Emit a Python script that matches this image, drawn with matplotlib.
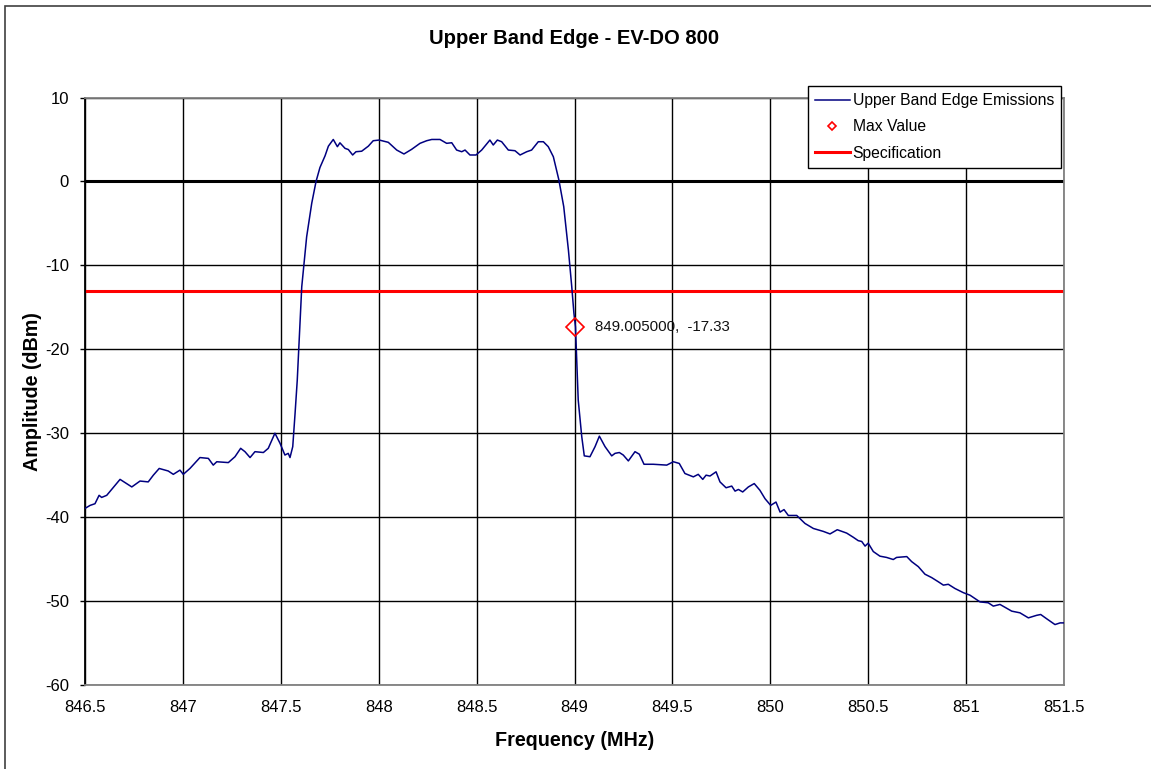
import matplotlib
matplotlib.use("Agg")
import matplotlib.pyplot as plt
from matplotlib.patches import Rectangle

plt.rcParams['font.family'] = ['Liberation Sans', 'DejaVu Sans']
plt.rcParams['axes.unicode_minus'] = False

# ---- data ----
freq_mhz = [
    846.500, 846.526, 846.551, 846.572, 846.585, 846.611, 846.679, 846.739, 846.781, 846.823,
    846.849, 846.879, 846.925, 846.951, 846.985, 847.002, 847.036, 847.087, 847.130, 847.155,
    847.173, 847.232, 847.266, 847.295, 847.317, 847.343, 847.368, 847.411, 847.436, 847.470,
    847.496, 847.521, 847.538, 847.547, 847.561, 847.573, 847.584, 847.607, 847.632, 847.658,
    847.680, 847.700, 847.726, 847.743, 847.768, 847.789, 847.802, 847.828, 847.845, 847.867,
    847.884, 847.913, 847.947, 847.972, 848.003, 848.049, 848.092, 848.129, 848.168, 848.211,
    848.245, 848.271, 848.313, 848.347, 848.373, 848.398, 848.424, 848.441, 848.466, 848.497,
    848.526, 848.568, 848.585, 848.606, 848.628, 848.662, 848.696, 848.722, 848.756, 848.781,
    848.815, 848.841, 848.866, 848.892, 848.920, 848.945, 848.969, 848.986, 848.997, 849.005,
    849.019, 849.037, 849.050, 849.079, 849.105, 849.127, 849.156, 849.190, 849.207, 849.229,
    849.249, 849.275, 849.309, 849.331, 849.355, 849.402, 849.471, 849.505, 849.535, 849.564,
    849.607, 849.632, 849.655, 849.672, 849.692, 849.723, 849.743, 849.774, 849.803, 849.820,
    849.837, 849.859, 849.888, 849.918, 849.947, 849.973, 850.002, 850.029, 850.050, 850.070,
    850.092, 850.135, 850.177, 850.220, 850.271, 850.305, 850.342, 850.390, 850.424, 850.449,
    850.467, 850.484, 850.500, 850.526, 850.560, 850.594, 850.628, 850.645, 850.697, 850.722,
    850.756, 850.790, 850.824, 850.858, 850.884, 850.909, 850.943, 850.986, 851.020, 851.071,
    851.113, 851.139, 851.173, 851.233, 851.275, 851.318, 851.360, 851.381, 851.411, 851.454,
    851.480, 851.500,
]
amplitude_dbm = [
    -38.96, -38.6, -38.4, -37.4, -37.65, -37.4, -35.5, -36.4, -35.7, -35.8,
    -35.0, -34.2, -34.5, -34.9, -34.4, -34.9, -34.2, -32.9, -33.0, -33.8,
    -33.4, -33.5, -32.8, -31.8, -32.2, -32.9, -32.2, -32.3, -31.8, -30.0,
    -31.2, -32.6, -32.4, -32.9, -31.6, -27.6, -23.7, -12.55, -6.6, -2.6,
    0.0, 1.66, 3.05, 4.2, 5.0, 4.14, 4.6, 3.94, 3.8, 3.15,
    3.54, 3.6, 4.2, 4.85, 4.93, 4.66, 3.74, 3.27, 3.82, 4.54,
    4.85, 5.0, 5.0, 4.54, 4.61, 3.74, 3.54, 3.74, 3.15, 3.15,
    3.74, 4.93, 4.34, 4.93, 4.73, 3.74, 3.66, 3.15, 3.54, 3.74,
    4.73, 4.73, 4.14, 2.94, 0.2, -3.0, -8.2, -12.55, -15.7, -17.33,
    -26.05, -30.4, -32.7, -32.8, -31.6, -30.35, -31.6, -32.7, -32.4, -32.3,
    -32.6, -33.3, -32.2, -32.5, -33.7, -33.7, -33.8, -33.4, -33.6, -34.8,
    -35.2, -34.9, -35.5, -35.0, -35.1, -34.6, -35.8, -36.5, -36.3, -36.9,
    -36.7, -37.0, -36.4, -36.0, -36.8, -37.8, -38.6, -38.2, -39.4, -39.1,
    -39.8, -39.8, -40.75, -41.35, -41.7, -42.0, -41.5, -41.9, -42.4, -42.8,
    -42.9, -43.45, -43.1, -44.1, -44.65, -44.8, -45.05, -44.8, -44.7, -45.3,
    -45.9, -46.8, -47.2, -47.7, -48.1, -48.0, -48.5, -49.0, -49.3, -50.1,
    -50.2, -50.6, -50.4, -51.2, -51.4, -52.0, -51.7, -51.6, -52.1, -52.8,
    -52.6, -52.6,
]
max_freq = 849.005
max_amp = -17.33
spec_limit = -13.0
x_ticks = [846.5, 847, 847.5, 848, 848.5, 849, 849.5, 850, 850.5, 851, 851.5]
y_ticks = [10, 0, -10, -20, -30, -40, -50, -60]
title = "Upper Band Edge - EV-DO 800"
x_label = "Frequency (MHz)"
y_label = "Amplitude (dBm)"

W, H = 1151, 769
fig = plt.figure(figsize=(W / 100, H / 100), dpi=100)
fig.patch.set_facecolor('white')
ax = fig.add_axes([85 / W, 1 - 685 / H, 979 / W, 587.5 / H])

ax.set_xlim(x_ticks[0], x_ticks[-1])
ax.set_ylim(min(y_ticks), max(y_ticks))
ax.set_xticks(x_ticks)
ax.set_xticklabels([f"{t:g}" for t in x_ticks])
ax.set_yticks(y_ticks)
ax.set_yticklabels([f"{t:g}" for t in y_ticks])
ax.grid(True, color='black', linewidth=1.0, zorder=0)
ax.set_axisbelow(True)
ax.axhline(0, color='black', linewidth=2.2, zorder=1)

ax.plot(freq_mhz, amplitude_dbm, color='#000080', linewidth=1.1,
        label='Upper Band Edge Emissions', zorder=3)
ax.plot([max_freq], [max_amp], linestyle='none', marker='D', markersize=8.7,
        markerfacecolor='none', markeredgecolor='#ff0000', markeredgewidth=1.2,
        label='Max Value', zorder=4)
ax.axhline(spec_limit, color='#ff0000', linewidth=2.2, label='Specification', zorder=2)

ax.annotate(f"{max_freq:.6f},  {max_amp:.2f}", xy=(max_freq, max_amp),
            xytext=(14.4, 0), textcoords='offset points', va='center', ha='left',
            fontsize=10.8, color='#111111')

for side in ['top', 'right', 'bottom']:
    ax.spines[side].set_color('#808080')
    ax.spines[side].set_linewidth(1.3)
ax.spines['left'].set_color('black')
ax.spines['left'].set_linewidth(1.3)

ax.tick_params(axis='y', direction='out', length=3.6, width=1.0, pad=8.0,
               labelsize=12, colors='black')
ax.tick_params(axis='x', length=0, pad=11.0, labelsize=12, colors='black')

ax.set_xlabel(x_label, fontsize=14.2, fontweight='bold')
ax.xaxis.set_label_coords(0.5, (685 - 741) / 587.5)
ax.xaxis.label.set_va('center')
ax.set_ylabel(y_label, fontsize=14.2, fontweight='bold')
ax.yaxis.set_label_coords((33 - 85) / 979, 0.5)
ax.yaxis.label.set_va('center')
ax.yaxis.label.set_ha('center')

ax.set_title(title, fontsize=14.6, fontweight='bold', y=(685 - 38) / 587.5,
             va='center', pad=0)

leg = ax.legend(loc='upper left', bbox_to_anchor=(808 / W, 1 - 86 / H),
                bbox_transform=fig.transFigure, borderaxespad=0,
                fontsize=11.3, frameon=True, fancybox=False, framealpha=1,
                edgecolor='black', handlelength=2.2, handletextpad=0.2,
                borderpad=0.45, labelspacing=0.72, markerscale=0.5)
leg.get_frame().set_linewidth(1.0)
leg.set_zorder(10)

fig.patches.append(Rectangle((4.5 / W, -0.02), 1.1, 1.02 - 6.5 / H,
                             transform=fig.transFigure, fill=False,
                             edgecolor='#404040', linewidth=1.2))

fig.savefig('out.png', dpi=100)
